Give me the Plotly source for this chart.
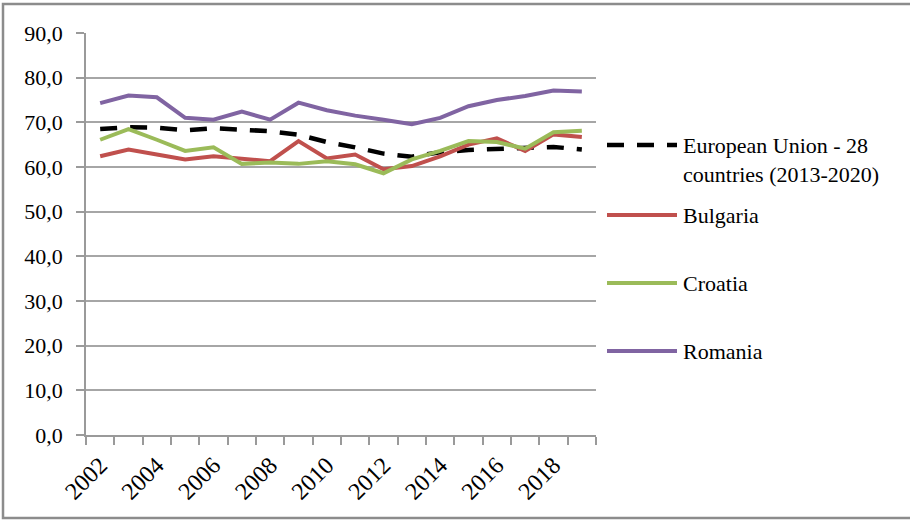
import plotly.graph_objects as go

years = list(range(2002, 2020))
eu28 = [68.5, 68.9, 68.8, 68.2, 68.7, 68.4, 68.0, 67.2, 65.6, 64.4, 63.0, 62.3, 63.3, 63.8, 64.1, 64.3, 64.5, 63.9]
bulgaria = [62.4, 63.9, 62.8, 61.7, 62.4, 61.9, 61.3, 65.8, 61.9, 62.8, 59.5, 60.2, 62.4, 65.0, 66.4, 63.6, 67.3, 66.7]
croatia = [66.1, 68.5, 66.1, 63.6, 64.4, 60.7, 61.0, 60.7, 61.3, 60.6, 58.6, 61.7, 63.6, 65.8, 65.6, 64.1, 67.8, 68.1]
romania = [74.3, 76.0, 75.6, 71.0, 70.6, 72.4, 70.6, 74.4, 72.7, 71.5, 70.6, 69.6, 71.0, 73.6, 75.0, 75.9, 77.1, 76.9]
x_ticks = [2002, 2004, 2006, 2008, 2010, 2012, 2014, 2016, 2018]
y_ticks = [0, 10, 20, 30, 40, 50, 60, 70, 80, 90]

names = ["European Union - 28<br>countries (2013-2020)", "Bulgaria", "Croatia", "Romania"]
colors = ["#000000", "#C0504D", "#9BBB59", "#8064A2"]
dashes = ["17px,13px", "solid", "solid", "solid"]
widths = [4.5, 4, 4, 4]
series = [eu28, bulgaria, croatia, romania]

FONT = "Liberation Serif, Times New Roman, serif"

fig = go.Figure()
for nm, col, d, w, s in zip(names, colors, dashes, widths, series):
    fig.add_trace(go.Scatter(x=years, y=s, mode="lines", name=nm.replace("<br>", " "),
                             line=dict(color=col, width=w, dash=d), showlegend=False))

# plot area geometry (pixels)
L, R, T, B = 86, 596, 33, 435
W, H = 910, 520

def xp(px):
    return (px - L) / (R - L)

def yp(py):
    return (B - py) / (B - T)

shapes = []
annotations = []
legend_y = [145, 215, 283, 351]
text_y = [160, 215, 283, 351]
for nm, col, d, w, ly, ty in zip(names, colors, dashes, widths, legend_y, text_y):
    shapes.append(dict(type="line", xref="paper", yref="paper", x0=xp(607), x1=xp(677),
                       y0=yp(ly), y1=yp(ly), line=dict(color=col, width=w, dash=d)))
    annotations.append(dict(xref="paper", yref="paper", x=xp(681), y=yp(ty), text=nm,
                            showarrow=False, xanchor="left", yanchor="middle", align="left",
                            font=dict(family=FONT, size=22, color="#000000")))

# outer border
shapes.append(dict(type="rect", xref="paper", yref="paper", x0=xp(3), x1=xp(914),
                   y0=yp(518), y1=yp(4), line=dict(color="#8c8c8c", width=2.5), layer="below"))

fig.update_layout(
    width=W, height=H,
    margin=dict(l=L, r=W - R, t=T, b=H - B, pad=0),
    paper_bgcolor="white", plot_bgcolor="white",
    font=dict(family=FONT, size=22, color="#000000"),
    separators=",.",
    shapes=shapes, annotations=annotations,
    xaxis=dict(range=[2001.5, 2019.5], tickvals=x_ticks, ticktext=[str(v) for v in x_ticks],
               tickangle=-45, ticks="", showgrid=False, zeroline=False,
               showline=True, linecolor="#9a9a9a", linewidth=1.5,
               minor=dict(ticks="outside", ticklen=8, tickcolor="#9a9a9a", tickwidth=1.5,
                          tick0=2001.5, dtick=1, showgrid=False),
               ticklabelstandoff=5,
               tickfont=dict(family=FONT, size=24, color="#000000")),
    yaxis=dict(range=[0, 90], tickvals=y_ticks, tickformat=".1f",
               ticks="outside", ticklen=8, tickcolor="#9a9a9a", tickwidth=1.5,
               showgrid=True, gridcolor="#a6a6a6", gridwidth=1.5, zeroline=False,
               showline=True, linecolor="#9a9a9a", linewidth=1.5,
               ticklabelstandoff=9,
               tickfont=dict(family=FONT, size=22, color="#000000")),
)

fig.write_html("out.html", config={"displayModeBar": False},
               post_script="document.body.style.margin='0';")
